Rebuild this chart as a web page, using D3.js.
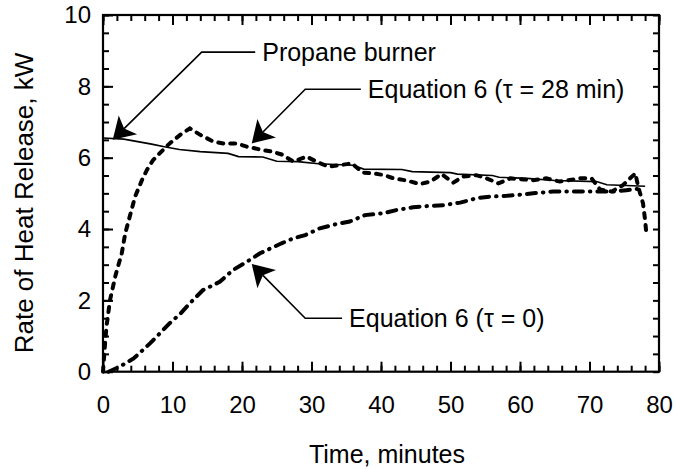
<!DOCTYPE html>
<html>
<head>
<meta charset="utf-8">
<script src="https://cdn.jsdelivr.net/npm/d3@7"></script>
<style>
  body { margin: 0; background: #fff; }
  svg { display: block; font-family: "Liberation Sans", Arial, sans-serif; }
</style>
</head>
<body>
<svg id="chart" width="676" height="469"></svg>
<script>
// tick labels
const xTicks = [0, 10, 20, 30, 40, 50, 60, 70, 80];
const yTicks = [0, 2, 4, 6, 8, 10];

// propane burner (solid)
const propaneT = [0, 3, 5, 7, 9, 11, 14, 18, 19.5, 23, 25, 28, 31, 36, 37.5, 43, 44.5, 50, 51, 56, 57, 61, 65, 71, 72.5, 78];
const propaneV = [6.55, 6.52, 6.45, 6.38, 6.3, 6.23, 6.17, 6.12, 6.03, 6.02, 5.9, 5.89, 5.83, 5.79, 5.68, 5.67, 5.61, 5.58, 5.54, 5.5, 5.45, 5.42, 5.36, 5.33, 5.24, 5.2];

// Equation 6, tau = 28 min (dashed)
const tau28T = [0, 0.3, 0.5, 1.0, 1.8, 2.7, 3.2, 4.1, 4.6, 5.6, 6.3, 7.2, 8.4, 9.6, 11.1, 12.5, 14, 15.9, 17.3, 19.2, 20.7, 22.6, 24.3, 25.7, 27.4, 29.3, 30.7, 32.4, 34.1, 35.8, 37.4, 38.9, 40.5, 41.8, 43.7, 45.6, 47.1, 48.7, 50.4, 51.8, 53.7, 55.2, 56.9, 58.6, 60.5, 61.9, 63.8, 65.7, 68.6, 70.3, 71.5, 73.2, 74.8, 76.6, 77.0, 77.7, 78, 78.2];
const tau28V = [0, 0.8, 1.26, 2.0, 2.7, 3.32, 3.88, 4.53, 4.9, 5.37, 5.65, 5.93, 6.17, 6.4, 6.64, 6.82, 6.64, 6.45, 6.4, 6.4, 6.31, 6.23, 6.17, 6.09, 5.89, 6.03, 5.89, 5.75, 5.79, 5.84, 5.58, 5.56, 5.51, 5.42, 5.36, 5.26, 5.33, 5.54, 5.3, 5.47, 5.51, 5.42, 5.28, 5.42, 5.39, 5.37, 5.42, 5.33, 5.42, 5.42, 5.11, 5.05, 5.23, 5.56, 5.19, 4.72, 4.25, 3.83];

// Equation 6, tau = 0 (dash-dot)
const tau0T = [0.8, 2.4, 4.4, 6.8, 8.2, 9.6, 11.1, 12.5, 14.4, 16.8, 18.7, 20.7, 22.6, 25.7, 27.4, 29.1, 31.2, 33.6, 35.5, 37.7, 40.3, 42.2, 44.6, 47.1, 49, 51.4, 53.7, 55.7, 58.1, 60.5, 61.9, 64.8, 68.1, 71, 73.4, 75.3, 77.7];
const tau0V = [0, 0.14, 0.37, 0.8, 1.08, 1.36, 1.62, 1.92, 2.29, 2.52, 2.85, 3.08, 3.32, 3.6, 3.74, 3.83, 4.02, 4.14, 4.21, 4.39, 4.44, 4.53, 4.61, 4.65, 4.67, 4.74, 4.86, 4.91, 4.93, 4.97, 5.0, 5.05, 5.05, 5.05, 5.05, 5.09, 5.14];

// annotations: text, arrow tip, elbow, end of horizontal leg (data units)
const labels = ["Propane burner", "Equation 6 (\u03c4 = 28 min)", "Equation 6 (\u03c4 = 0)"];
const tipT = [1.4, 21.4, 21.4];
const tipV = [6.5, 6.4, 3.02];
const elbowT = [14.2, 29.1, 29.1];
const elbowV = [8.96, 7.92, 1.5];
const legEndT = [21.9, 37.1, 34.4];

const svg = d3.select("#chart");
const plotL = 103, plotR = 659, plotT = 15, plotB = 371.7;

const x = d3.scaleLinear().domain([0, 80]).range([plotL, plotR]);
const y = d3.scaleLinear().domain([0, 10]).range([plotB, plotT]);

const minorX = d3.range(0, 81, 2);
const minorY = d3.range(0, 10.01, 0.5);

function styleAxis(g) {
  g.select(".domain").remove();
  g.selectAll(".tick line")
    .attr("stroke", "#000")
    .attr("stroke-width", 2);
  g.selectAll("text").attr("fill", "#000").style("font-size", "24px");
}

// minor ticks on all four sides (pointing inward)
svg.append("g").attr("transform", `translate(0,${plotB})`)
  .call(d3.axisBottom(x).tickValues(minorX).tickSize(-6).tickFormat(""))
  .call(styleAxis);
svg.append("g").attr("transform", `translate(0,${plotT})`)
  .call(d3.axisTop(x).tickValues(minorX).tickSize(-6).tickFormat(""))
  .call(styleAxis);
svg.append("g").attr("transform", `translate(${plotL},0)`)
  .call(d3.axisLeft(y).tickValues(minorY).tickSize(-6).tickFormat(""))
  .call(styleAxis);
svg.append("g").attr("transform", `translate(${plotR},0)`)
  .call(d3.axisRight(y).tickValues(minorY).tickSize(-6).tickFormat(""))
  .call(styleAxis);

// major ticks with labels
svg.append("g").attr("transform", `translate(0,${plotB})`)
  .call(d3.axisBottom(x).tickValues(xTicks).tickSize(-10).tickPadding(24).tickFormat(d3.format("d")))
  .call(styleAxis);
svg.append("g").attr("transform", `translate(0,${plotT})`)
  .call(d3.axisTop(x).tickValues(xTicks).tickSize(-10).tickFormat(""))
  .call(styleAxis);
svg.append("g").attr("transform", `translate(${plotL},0)`)
  .call(d3.axisLeft(y).tickValues(yTicks).tickSize(-10).tickPadding(12).tickFormat(d3.format("d")))
  .call(styleAxis);

// frame
svg.append("rect")
  .attr("x", plotL).attr("y", plotT)
  .attr("width", plotR - plotL).attr("height", plotB - plotT)
  .attr("fill", "none").attr("stroke", "#000").attr("stroke-width", 2.2);

const line = d3.line().x(d => x(d[0])).y(d => y(d[1]));

svg.append("path")
  .attr("d", line(d3.zip(propaneT, propaneV)))
  .attr("fill", "none").attr("stroke", "#000").attr("stroke-width", 1.6);

svg.append("path")
  .attr("d", line(d3.zip(tau28T, tau28V)))
  .attr("fill", "none").attr("stroke", "#000").attr("stroke-width", 4)
  .attr("stroke-linecap", "round").attr("stroke-dasharray", "5,7");

svg.append("path")
  .attr("d", line(d3.zip(tau0T, tau0V)))
  .attr("fill", "none").attr("stroke", "#000").attr("stroke-width", 4)
  .attr("stroke-linecap", "round").attr("stroke-dasharray", "9,7,0.5,7");

// annotations
labels.forEach((txt, i) => {
  const tx = x(tipT[i]), ty = y(tipV[i]);
  const ex = x(elbowT[i]), ey = y(elbowV[i]);
  const lx = x(legEndT[i]);
  const ang = Math.atan2(ey - ty, ex - tx);
  const len = 25, spread = 0.55, notch = 16;
  const p1 = [tx + len * Math.cos(ang - spread), ty + len * Math.sin(ang - spread)];
  const p2 = [tx + notch * Math.cos(ang), ty + notch * Math.sin(ang)];
  const p3 = [tx + len * Math.cos(ang + spread), ty + len * Math.sin(ang + spread)];

  svg.append("path")
    .attr("d", `M${p2[0]},${p2[1]}L${ex},${ey}L${lx},${ey}`)
    .attr("fill", "none").attr("stroke", "#000").attr("stroke-width", 1.6);
  svg.append("path")
    .attr("d", `M${tx},${ty}L${p1[0]},${p1[1]}L${p2[0]},${p2[1]}L${p3[0]},${p3[1]}Z`)
    .attr("fill", "#000");
  svg.append("text")
    .attr("x", lx + 7).attr("y", ey + 8.5)
    .style("font-size", "25px").attr("fill", "#000")
    .text(txt);
});

// axis titles
svg.append("text")
  .attr("x", 387).attr("y", 463)
  .attr("text-anchor", "middle")
  .style("font-size", "25px")
  .text("Time, minutes");

svg.append("text")
  .attr("transform", "translate(33,203) rotate(-90)")
  .attr("text-anchor", "middle")
  .style("font-size", "26px")
  .text("Rate of Heat Release, kW");
</script>
</body>
</html>
